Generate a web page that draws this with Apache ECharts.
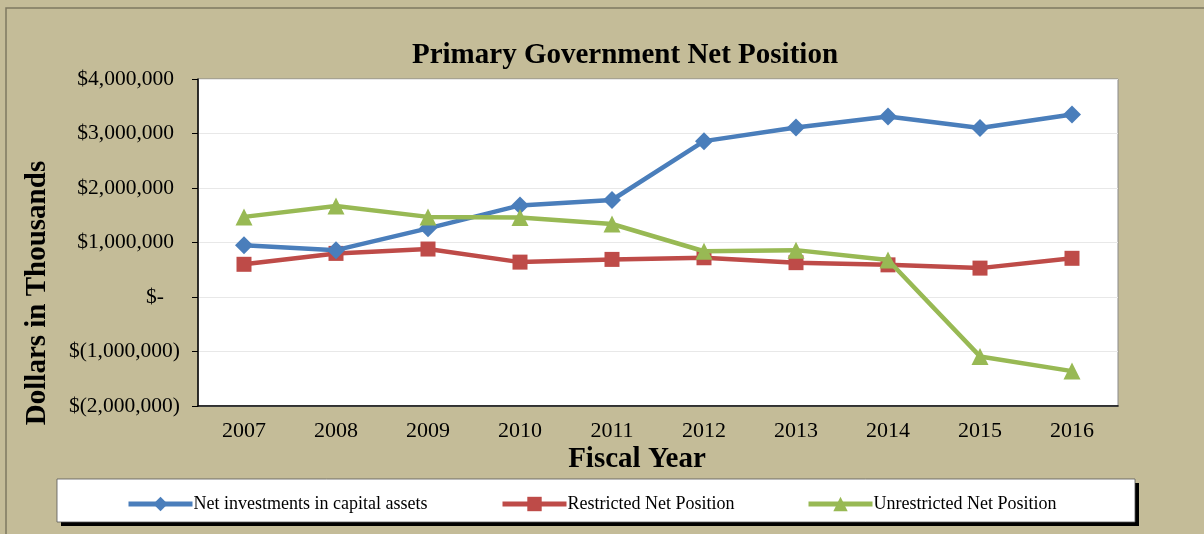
<!DOCTYPE html>
<html>
<head>
<meta charset="utf-8">
<script src="https://cdn.jsdelivr.net/npm/echarts@6/dist/echarts.min.js"></script>
<style>html,body{margin:0;padding:0;background:#C4BC98;}#c{width:1204px;height:534px;}</style>
</head>
<body>
<div id="c"></div>
<script>
var years = ['2007','2008','2009','2010','2011','2012','2013','2014','2015','2016'];
var netInvestments = [950000, 860000, 1260000, 1680000, 1780000, 2860000, 3110000, 3310000, 3100000, 3350000];
var restricted = [600000, 800000, 880000, 640000, 690000, 720000, 630000, 590000, 530000, 710000];
var unrestricted = [1470000, 1670000, 1470000, 1460000, 1340000, 840000, 860000, 680000, -1090000, -1360000];
var seriesNames = ['Net investments in capital assets', 'Restricted Net Position', 'Unrestricted Net Position'];

var FONT = '"Liberation Serif", "Times New Roman", serif';
var chart = echarts.init(document.getElementById('c'));

function fmt(v) {
  if (v === 0) return '{z|$-}';
  var s = Math.abs(v).toLocaleString('en-US');
  return v < 0 ? '{n|$(' + s + ')}' : '{p|$' + s + '}';
}

var legendBase = {
  top: 490, itemWidth: 64, itemHeight: 18, itemGap: 2,
  lineStyle: { width: 5 },
  textStyle: { fontFamily: FONT, fontSize: 18, color: '#000', padding: [0,0,0,-4] },
  selectedMode: false
};

chart.setOption({
  backgroundColor: '#C4BC98',
  animation: false,
  title: {
    text: 'Primary Government Net Position',
    left: 620, top: 36, textAlign: 'center',
    textStyle: { fontFamily: FONT, fontSize: 29, fontWeight: 'bold', color: '#000' }
  },
  graphic: [
    { type: 'rect', shape: { x: 6, y: 8, width: 1220, height: 540 }, style: { fill: 'none', stroke: '#7d7860', lineWidth: 1.5 }, z: -1 },
    { type: 'rect', shape: { x: 61, y: 483, width: 1078, height: 43 }, style: { fill: '#000' }, z: 0 },
    { type: 'rect', shape: { x: 57, y: 479, width: 1078, height: 43 }, style: { fill: '#fff', stroke: '#555', lineWidth: 0.8 }, z: 1 },
    { type: 'text', x: 38, y: 293, rotation: Math.PI / 2, style: { text: 'Dollars in Thousands', font: 'bold 29px ' + FONT, fill: '#000', textAlign: 'center', textVerticalAlign: 'middle' } },
    { type: 'text', x: 637, y: 460, style: { text: 'Fiscal Year', font: 'bold 29px ' + FONT, fill: '#000', textAlign: 'center', textVerticalAlign: 'middle' } }
  ],
  legend: [
    Object.assign({}, legendBase, { left: 121, data: [seriesNames[0]] }),
    Object.assign({}, legendBase, { left: 495, data: [seriesNames[1]] }),
    Object.assign({}, legendBase, { left: 801, data: [seriesNames[2]] })
  ],
  grid: { left: 198, right: 86, top: 79, bottom: 128, show: true, backgroundColor: '#fff', borderColor: '#8a8a8a', borderWidth: 1 },
  xAxis: {
    type: 'category', data: years, boundaryGap: true,
    axisLine: { onZero: false, lineStyle: { color: '#000', width: 1.5 } },
    axisTick: { show: false },
    axisLabel: { fontFamily: FONT, fontSize: 22, color: '#000', margin: 14 }
  },
  yAxis: {
    type: 'value', min: -2000000, max: 4000000, interval: 1000000,
    axisLine: { show: true, lineStyle: { color: '#000', width: 1.5 } },
    axisTick: { show: true, length: 6, lineStyle: { color: '#000' } },
    splitLine: { lineStyle: { color: '#e8e8e8', width: 1 } },
    axisLabel: {
      margin: 18, formatter: fmt,
      rich: {
        p: { fontFamily: FONT, fontSize: 21.5, color: '#000', padding: [0, 6, 0, 0] },
        n: { fontFamily: FONT, fontSize: 21.5, color: '#000' },
        z: { fontFamily: FONT, fontSize: 21.5, color: '#000', padding: [0, 16, 0, 0] }
      }
    }
  },
  series: [
    { name: seriesNames[0], type: 'line', data: netInvestments, symbol: 'diamond', symbolSize: 18,
      lineStyle: { color: '#4A7EBB', width: 4.5 }, itemStyle: { color: '#4A7EBB' }, z: 3 },
    { name: seriesNames[1], type: 'line', data: restricted, symbol: 'rect', symbolSize: 15,
      lineStyle: { color: '#BE4B48', width: 4.5 }, itemStyle: { color: '#BE4B48' }, z: 2 },
    { name: seriesNames[2], type: 'line', data: unrestricted, symbol: 'triangle', symbolSize: 17,
      lineStyle: { color: '#98B954', width: 4.5 }, itemStyle: { color: '#98B954' }, z: 4 }
  ]
});
</script>
</body>
</html>
